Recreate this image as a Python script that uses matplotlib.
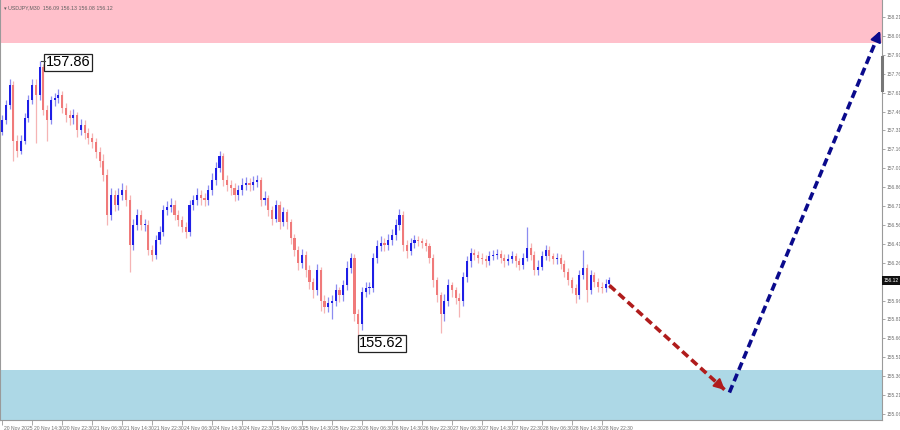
import numpy as np
import matplotlib
matplotlib.use("Agg")
import matplotlib.pyplot as plt
from matplotlib.transforms import blended_transform_factory, ScaledTranslation

# ---------------- data ----------------
first_open = 157.30
closes = [157.39, 157.51, 157.67, 157.23, 157.15, 157.23, 157.41, 157.55, 157.67, 157.59,
          157.81, 157.47, 157.39, 157.55, 157.57, 157.59, 157.49, 157.43, 157.41, 157.43,
          157.31, 157.35, 157.29, 157.25, 157.22, 157.14, 157.07, 156.96, 156.64, 156.80,
          156.72, 156.80, 156.84, 156.76, 156.40, 156.56, 156.64, 156.56, 156.56, 156.36,
          156.32, 156.44, 156.50, 156.68, 156.70, 156.72, 156.64, 156.60, 156.54, 156.50,
          156.72, 156.76, 156.80, 156.77, 156.76, 156.84, 156.92, 157.01, 157.11, 156.92,
          156.88, 156.85, 156.80, 156.84, 156.88, 156.89, 156.88, 156.90, 156.92, 156.76,
          156.77, 156.68, 156.61, 156.72, 156.58, 156.66, 156.58, 156.46, 156.36, 156.26,
          156.32, 156.20, 156.11, 156.04, 156.20, 155.96, 155.91, 155.94, 155.96, 156.04,
          156.00, 156.08, 156.22, 156.30, 155.85, 155.77, 156.03, 156.06, 156.06, 156.30,
          156.39, 156.42, 156.40, 156.44, 156.48, 156.56, 156.64, 156.40, 156.35, 156.42,
          156.44, 156.43, 156.42, 156.39, 156.30, 156.12, 156.00, 155.85, 155.96, 156.08,
          156.04, 155.98, 155.96, 156.15, 156.27, 156.34, 156.32, 156.30, 156.29, 156.27,
          156.31, 156.32, 156.33, 156.30, 156.27, 156.29, 156.31, 156.27, 156.24, 156.30,
          156.38, 156.32, 156.20, 156.23, 156.31, 156.36, 156.31, 156.29, 156.30, 156.25,
          156.19, 156.12, 156.06, 156.00, 156.16, 156.22, 156.04, 156.16, 156.11, 156.07,
          156.06, 156.09, 156.12]
highs = [157.43, 157.55, 157.72, 157.70, 157.27, 157.27, 157.45, 157.59, 157.72, 157.72,
         157.86, 157.84, 157.51, 157.58, 157.61, 157.64, 157.62, 157.53, 157.47, 157.48,
         157.46, 157.40, 157.39, 157.33, 157.29, 157.25, 157.18, 157.12, 157.00, 156.85,
         156.84, 156.85, 156.89, 156.88, 156.80, 156.61, 156.69, 156.68, 156.61, 156.60,
         156.40, 156.48, 156.55, 156.72, 156.75, 156.77, 156.76, 156.68, 156.63, 156.58,
         156.76, 156.80, 156.85, 156.84, 156.81, 156.88, 156.97, 157.06, 157.15, 157.13,
         156.96, 156.92, 156.89, 156.88, 156.93, 156.94, 156.93, 156.95, 156.96, 156.94,
         156.83, 156.80, 156.71, 156.76, 156.75, 156.70, 156.69, 156.61, 156.49, 156.39,
         156.37, 156.35, 156.24, 156.14, 156.25, 156.23, 156.00, 155.99, 156.00, 156.09,
         156.07, 156.12, 156.27, 156.34, 156.33, 155.89, 156.07, 156.11, 156.11, 156.34,
         156.44, 156.47, 156.46, 156.49, 156.53, 156.61, 156.69, 156.67, 156.44, 156.46,
         156.48, 156.47, 156.46, 156.45, 156.42, 156.33, 156.15, 156.03, 156.01, 156.13,
         156.11, 156.07, 156.02, 156.19, 156.31, 156.38, 156.37, 156.35, 156.34, 156.32,
         156.35, 156.36, 156.37, 156.36, 156.33, 156.33, 156.35, 156.34, 156.30, 156.34,
         156.54, 156.42, 156.35, 156.28, 156.35, 156.40, 156.39, 156.34, 156.34, 156.33,
         156.28, 156.22, 156.15, 156.09, 156.20, 156.36, 156.25, 156.20, 156.19, 156.14,
         156.11, 156.13, 156.15]
lows = [157.27, 157.36, 157.48, 157.07, 157.10, 157.12, 157.20, 157.38, 157.52, 157.21,
        157.55, 157.43, 157.23, 157.36, 157.50, 157.53, 157.45, 157.38, 157.35, 157.36,
        157.26, 157.27, 157.24, 157.20, 157.17, 157.09, 157.02, 156.91, 156.56, 156.60,
        156.67, 156.68, 156.76, 156.71, 156.19, 156.36, 156.52, 156.52, 156.51, 156.32,
        156.27, 156.29, 156.41, 156.47, 156.64, 156.66, 156.60, 156.55, 156.50, 156.46,
        156.47, 156.68, 156.72, 156.72, 156.71, 156.72, 156.80, 156.88, 156.98, 156.87,
        156.83, 156.80, 156.75, 156.76, 156.80, 156.84, 156.83, 156.84, 156.86, 156.71,
        156.72, 156.63, 156.56, 156.58, 156.53, 156.55, 156.53, 156.41, 156.31, 156.20,
        156.22, 156.15, 156.05, 155.98, 156.00, 155.88, 155.86, 155.87, 155.81, 155.92,
        155.95, 155.96, 156.04, 156.18, 155.80, 155.62, 155.73, 155.99, 156.01, 156.03,
        156.26, 156.35, 156.35, 156.36, 156.40, 156.44, 156.52, 156.35, 156.30, 156.32,
        156.38, 156.39, 156.38, 156.35, 156.26, 156.07, 155.95, 155.70, 155.80, 155.92,
        155.99, 155.93, 155.83, 155.92, 156.11, 156.23, 156.28, 156.26, 156.25, 156.23,
        156.24, 156.28, 156.29, 156.26, 156.23, 156.24, 156.26, 156.23, 156.20, 156.21,
        156.27, 156.28, 156.16, 156.16, 156.20, 156.28, 156.27, 156.25, 156.25, 156.21,
        156.15, 156.08, 156.02, 155.94, 155.97, 156.13, 155.95, 156.01, 156.07, 156.03,
        156.02, 156.03, 156.06]
opens = [first_open] + closes[:-1]

x_tick_labels = ["20 Nov 2025", "20 Nov 14:30", "20 Nov 22:30", "21 Nov 06:30", "21 Nov 14:30",
                 "21 Nov 22:30", "24 Nov 06:30", "24 Nov 14:30", "24 Nov 22:30", "25 Nov 06:30",
                 "25 Nov 14:30", "25 Nov 22:30", "26 Nov 06:30", "26 Nov 14:30", "26 Nov 22:30",
                 "27 Nov 06:30", "27 Nov 14:30", "27 Nov 22:30", "28 Nov 06:30", "28 Nov 14:30",
                 "28 Nov 22:30"]
y_ticks = [155.06, 155.21, 155.36, 155.51, 155.66, 155.81, 155.96, 156.26, 156.41, 156.56,
           156.71, 156.86, 157.01, 157.16, 157.31, 157.46, 157.61, 157.76, 157.91, 158.06, 158.21]

resist_zone = [158.00, 158.40]
support_zone = [155.00, 155.41]

down_leg_x = [162.0, 192.8]
down_leg_y = [156.08, 155.25]
up_leg_x = [194.0, 234.2]
up_leg_y = [155.23, 158.10]

high_mark = 157.86
low_mark = 155.62
high_idx = 10
low_idx = 95
last_price = 156.12
title = "USDJPY,M30  156.09 156.13 156.08 156.12"

small_font = ["Liberation Sans Narrow", "Liberation Sans", "DejaVu Sans"]

# ---------------- drawing ----------------
fig = plt.figure(figsize=(9, 4.3), dpi=100)
ax = fig.add_axes([0.0, 10 / 430, 882 / 900, 420 / 430])
ax.set_xlim(-0.55, 234.7)
ax.set_ylim(155.012, 158.345)

ax.axhspan(resist_zone[0], resist_zone[1], color="#ffc0cb", lw=0, zorder=0)
ax.axhspan(support_zone[0], support_zone[1], color="#add8e6", lw=0, zorder=0)

idx = np.arange(len(closes))
o = np.array(opens); c = np.array(closes); h = np.array(highs); l = np.array(lows)
bull = c >= o
ax.vlines(idx[bull], l[bull], h[bull], color="#8c8cf0", lw=0.9, zorder=2)
ax.vlines(idx[~bull], l[~bull], h[~bull], color="#f5b4b4", lw=0.9, zorder=2)
body_bottom = np.minimum(o, c)
body_h = np.maximum(np.abs(c - o), 0.006)
ax.bar(idx[bull], body_h[bull], bottom=body_bottom[bull], width=0.55,
       color="#1e1ee6", lw=0, zorder=3)
ax.bar(idx[~bull], body_h[~bull], bottom=body_bottom[~bull], width=0.55,
       color="#f07a7a", lw=0, zorder=3)

# forecast arrows
def dashed_arrow(xs, ys, color):
    ax.plot(xs, ys, ls=(0, (2.2, 1.2)), lw=2.6, color=color, zorder=5,
            dash_capstyle="butt")
    ax.annotate("", xy=(xs[1], ys[1]),
                xytext=(xs[1] - (xs[1] - xs[0]) * 0.02, ys[1] - (ys[1] - ys[0]) * 0.02),
                arrowprops=dict(arrowstyle="-|>", color=color, lw=1.5,
                                mutation_scale=16, shrinkA=0, shrinkB=0), zorder=6)

dashed_arrow(down_leg_x, down_leg_y, "#b01c1c")
dashed_arrow(up_leg_x, up_leg_y, "#0a0a8c")

# extreme labels
box = dict(boxstyle="square,pad=0.12", fc="white", ec="#222222", lw=0.9)
ax.text(high_idx + 1.6, high_mark - 0.01, f"{high_mark:.2f}", fontsize=10.5,
        family="Liberation Sans", va="center", ha="left", bbox=box, zorder=7)
ax.plot([high_idx + 0.4, high_idx + 1.4], [high_mark, high_mark], color="#444", lw=0.8, zorder=7)
ax.text(low_idx + 0.3, low_mark, f"{low_mark:.2f}", fontsize=10.5,
        family="Liberation Sans", va="center", ha="left", bbox=box, zorder=7)

# axes styling
ax.spines["top"].set_visible(False)
for s in ["left", "right", "bottom"]:
    ax.spines[s].set_color("#9a9a9a")
    ax.spines[s].set_linewidth(0.8)

ax.yaxis.tick_right()
ax.set_yticks(y_ticks)
ax.set_yticklabels([f"{v:.2f}" for v in y_ticks], family=small_font)
ax.tick_params(axis="y", labelsize=3.6, labelcolor="#707070", color="#9a9a9a",
               length=2.0, width=0.6, pad=1.2)

ax.set_xticks(np.arange(0, 8 * len(x_tick_labels), 8))
ax.set_xticklabels(x_tick_labels, family=small_font)
ax.tick_params(axis="x", labelsize=3.6, labelcolor="#707070", color="#9a9a9a",
               length=3.5, width=0.6, pad=0.8)
offset = ScaledTranslation(1.5 / 100, 0, fig.dpi_scale_trans)
for t in ax.get_xticklabels():
    t.set_horizontalalignment("left")
    t.set_transform(t.get_transform() + offset)

# right-axis scroll marker and current price tag
trans = blended_transform_factory(ax.transAxes, ax.transData)
ax.plot([1.0, 1.0], [157.63, 157.89], transform=trans, color="#777777", lw=2.2,
        clip_on=False, zorder=8)
ax.text(1.002, last_price, f"{last_price:.2f}", transform=trans, fontsize=3.6,
        family=small_font, color="white", va="center", ha="left",
        bbox=dict(boxstyle="square,pad=0.4", fc="#111111", ec="none"), clip_on=False)

# title
ax.text(0.004, 0.988, "▾ " + title, transform=ax.transAxes, fontsize=3.8,
        family=["Liberation Sans", "DejaVu Sans"],
        color="#606060", va="top", ha="left", zorder=8)

fig.savefig("out.png", dpi=100)
